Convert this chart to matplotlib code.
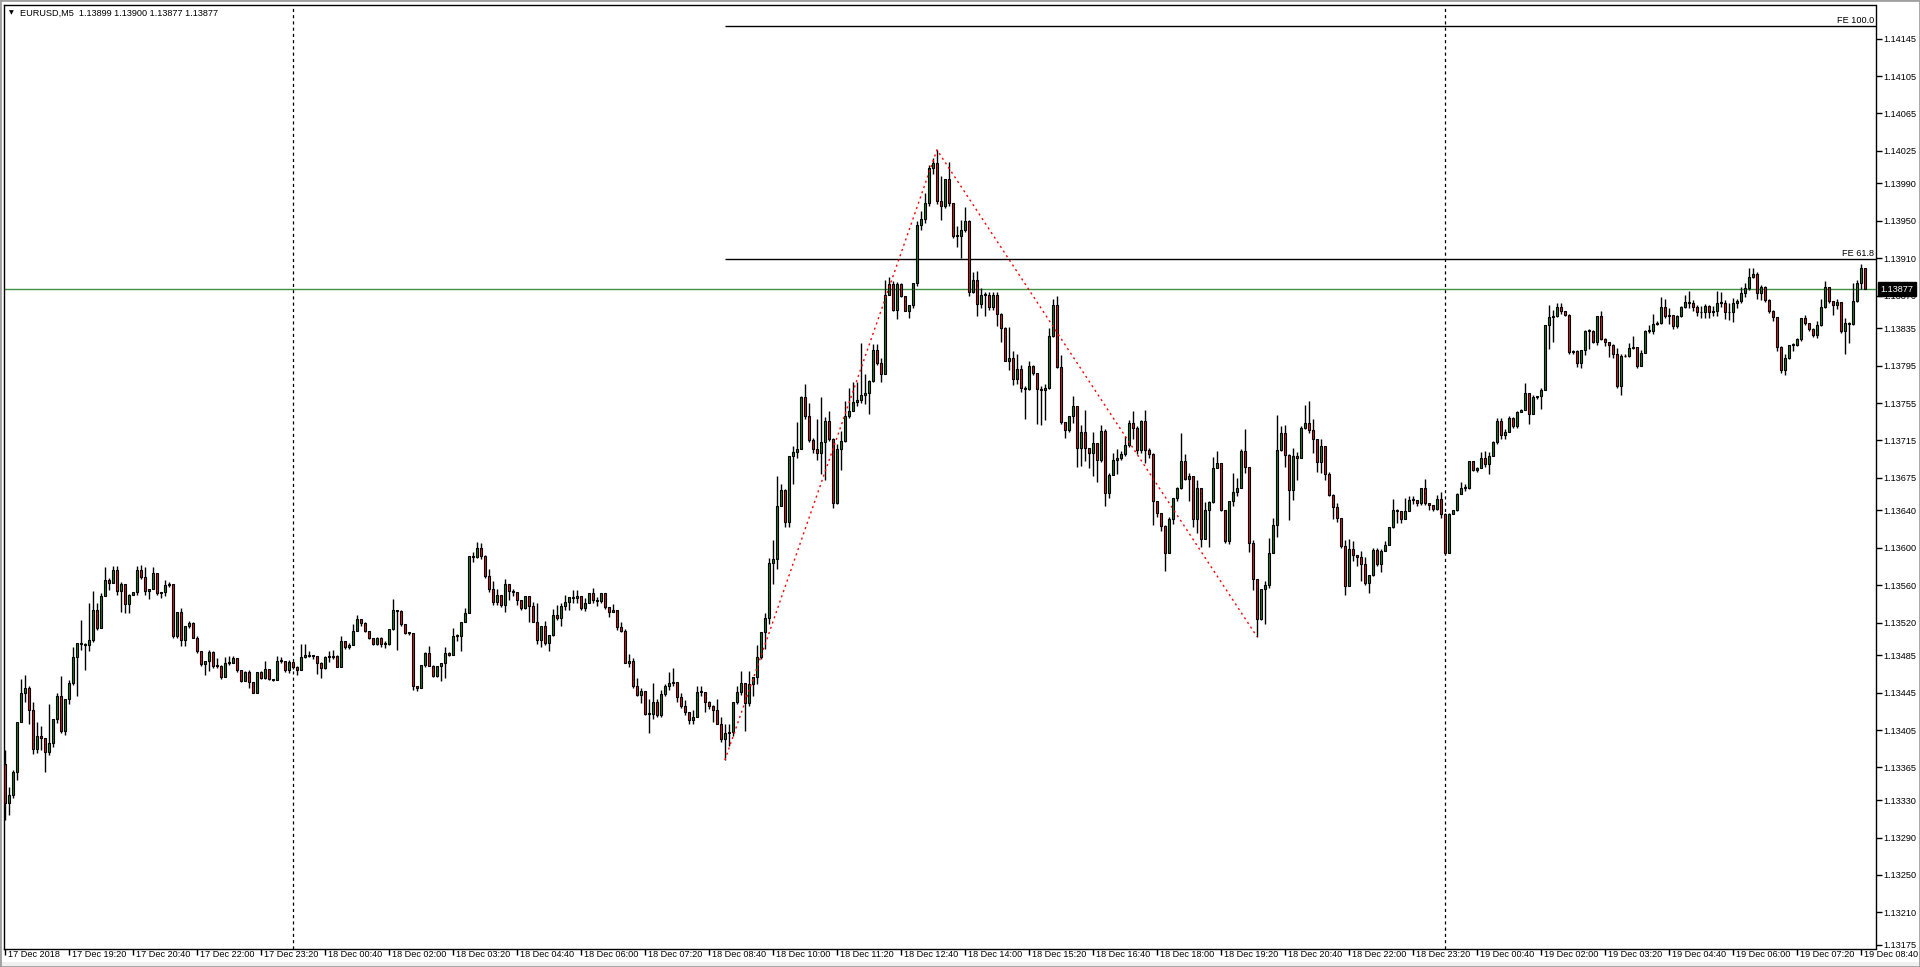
import matplotlib
matplotlib.use('Agg')
import matplotlib.pyplot as plt
import matplotlib.transforms as mtransforms
from matplotlib.patches import Rectangle
import numpy as np

# prices are kept as points above 1.13000 (1 point = 0.00001)
BASE = 1.13
first_open_pts = 369

close_pts = [
    327, 335, 360, 414, 445, 450, 426, 385, 399, 396,
    381, 391, 417, 441, 404, 438, 455, 483, 498, 497,
    496, 501, 533, 514, 549, 566, 562, 576, 554, 561,
    540, 550, 553, 576, 569, 554, 556, 573, 552, 553,
    560, 561, 506, 531, 501, 516, 520, 503, 490, 476,
    479, 489, 474, 474, 462, 477, 477, 482, 469, 458,
    467, 456, 445, 467, 461, 470, 460, 459, 479, 479,
    469, 478, 473, 469, 483, 485, 484, 484, 477, 471,
    483, 483, 484, 473, 500, 494, 496, 511, 524, 520,
    511, 504, 497, 504, 497, 497, 513, 533, 532, 518,
    509, 509, 452, 450, 475, 488, 474, 463, 474, 477,
    488, 485, 506, 506, 521, 530, 591, 590, 600, 591,
    570, 556, 542, 550, 539, 561, 554, 553, 544, 536,
    548, 538, 521, 501, 516, 498, 507, 528, 525, 538,
    542, 547, 546, 549, 536, 541, 552, 544, 543, 552,
    537, 531, 534, 515, 511, 477, 479, 452, 443, 447,
    422, 422, 435, 421, 444, 452, 455, 456, 440, 431,
    424, 416, 419, 446, 446, 435, 431, 427, 412, 395,
    402, 403, 435, 446, 455, 434, 454, 462, 483, 510,
    525, 584, 588, 645, 662, 628, 698, 703, 706, 761,
    741, 715, 706, 701, 713, 736, 717, 648, 706, 714,
    741, 747, 756, 758, 764, 766, 779, 812, 798, 786,
    871, 882, 855, 882, 870, 854, 860, 883, 946, 952,
    969, 1007, 1012, 971, 966, 995, 969, 934, 934, 940,
    950, 874, 887, 861, 871, 871, 858, 871, 850, 835,
    800, 803, 781, 791, 771, 770, 795, 787, 770, 769,
    771, 827, 860, 794, 735, 726, 741, 752, 707, 724,
    707, 701, 712, 694, 725, 659, 678, 694, 696, 700,
    710, 734, 728, 705, 736, 705, 700, 650, 637, 623,
    594, 631, 653, 664, 693, 674, 677, 631, 664, 609,
    640, 649, 686, 691, 641, 607, 650, 660, 664, 704,
    687, 605, 567, 524, 556, 560, 595, 625, 705, 723,
    699, 662, 698, 696, 728, 734, 726, 716, 692, 709,
    679, 657, 644, 632, 602, 559, 599, 592, 590, 583,
    562, 571, 598, 583, 597, 603, 622, 641, 639, 631,
    639, 651, 651, 648, 664, 648, 646, 642, 652, 636,
    595, 636, 640, 658, 664, 664, 693, 683, 685, 696,
    690, 698, 713, 736, 721, 724, 739, 730, 745, 748,
    766, 743, 761, 762, 769, 838, 847, 848, 858, 854,
    849, 810, 811, 798, 812, 832, 832, 820, 848, 823,
    820, 817, 807, 773, 805, 805, 814, 815, 795, 809,
    832, 832, 840, 841, 858, 848, 849, 837, 848, 858,
    863, 862, 858, 852, 852, 859, 852, 853, 862, 862,
    852, 852, 862, 864, 873, 878, 890, 893, 873, 879,
    865, 854, 847, 815, 790, 803, 817, 817, 823, 846,
    841, 834, 828, 838, 858, 879, 864, 860, 863, 832,
    841, 840, 864, 883, 899, 877,
]

high_pts = [
    384, 344, 362, 414, 460, 464, 452, 435, 414, 409,
    396, 433, 417, 445, 463, 438, 459, 494, 498, 523,
    498, 541, 554, 541, 552, 580, 568, 581, 581, 563,
    561, 551, 553, 581, 582, 580, 556, 580, 572, 553,
    566, 563, 560, 531, 536, 516, 522, 521, 506, 489,
    479, 491, 490, 482, 475, 483, 484, 484, 481, 469,
    468, 469, 456, 467, 468, 479, 470, 460, 484, 483,
    478, 480, 478, 474, 497, 497, 490, 485, 484, 478,
    484, 490, 491, 485, 506, 500, 498, 519, 528, 524,
    521, 511, 504, 505, 505, 500, 513, 545, 534, 533,
    518, 510, 508, 452, 475, 489, 495, 475, 474, 477,
    494, 489, 514, 508, 521, 536, 591, 596, 606, 605,
    592, 577, 565, 556, 548, 567, 561, 556, 553, 544,
    548, 548, 542, 541, 516, 522, 507, 535, 539, 541,
    550, 547, 555, 555, 549, 546, 552, 557, 547, 552,
    552, 537, 540, 534, 521, 513, 486, 482, 461, 450,
    447, 438, 455, 438, 448, 454, 467, 471, 456, 445,
    437, 424, 426, 452, 452, 446, 436, 432, 438, 419,
    411, 411, 435, 452, 468, 455, 468, 462, 496, 510,
    530, 589, 608, 677, 668, 663, 698, 709, 735, 763,
    775, 755, 718, 738, 761, 740, 747, 718, 711, 725,
    757, 771, 777, 778, 819, 786, 780, 818, 818, 803,
    887, 890, 886, 885, 884, 870, 860, 884, 950, 960,
    980, 1010, 1017, 1026, 998, 995, 1013, 969, 944, 951,
    965, 951, 895, 896, 878, 874, 874, 874, 874, 851,
    836, 836, 811, 807, 796, 773, 800, 796, 787, 773,
    775, 835, 866, 870, 806, 735, 741, 763, 752, 731,
    748, 707, 724, 711, 731, 727, 680, 702, 706, 704,
    720, 737, 747, 730, 737, 748, 707, 701, 650, 637,
    625, 633, 653, 665, 723, 700, 680, 676, 673, 664,
    649, 650, 697, 704, 691, 641, 650, 680, 675, 706,
    727, 685, 608, 567, 556, 564, 611, 632, 742, 730,
    732, 700, 707, 703, 730, 753, 757, 738, 716, 717,
    706, 681, 658, 648, 632, 608, 609, 607, 592, 597,
    590, 571, 600, 600, 599, 607, 622, 652, 642, 638,
    653, 655, 656, 651, 664, 674, 648, 645, 657, 660,
    637, 637, 641, 659, 671, 668, 693, 693, 687, 703,
    704, 703, 714, 739, 739, 727, 741, 740, 746, 749,
    776, 766, 764, 763, 771, 838, 860, 855, 862, 862,
    854, 850, 812, 812, 812, 833, 834, 833, 848, 853,
    825, 820, 818, 814, 807, 807, 819, 827, 815, 812,
    833, 838, 850, 843, 869, 866, 857, 848, 849, 859,
    871, 875, 865, 860, 859, 861, 860, 859, 875, 874,
    865, 862, 867, 866, 879, 883, 900, 900, 895, 881,
    880, 866, 855, 847, 816, 808, 817, 819, 825, 846,
    849, 841, 835, 843, 866, 886, 879, 864, 866, 861,
    846, 842, 883, 887, 904, 900,
]

low_pts = [
    309, 314, 332, 352, 414, 435, 411, 379, 380, 384,
    360, 378, 387, 413, 402, 400, 433, 453, 441, 491,
    469, 490, 499, 512, 515, 548, 555, 563, 550, 531,
    530, 530, 551, 550, 567, 550, 545, 557, 550, 546,
    549, 558, 503, 503, 495, 495, 514, 503, 488, 474,
    464, 468, 471, 471, 460, 462, 475, 478, 467, 456,
    458, 450, 445, 445, 460, 460, 459, 457, 459, 477,
    467, 466, 470, 464, 469, 482, 483, 481, 465, 461,
    470, 478, 481, 472, 473, 492, 492, 497, 511, 516,
    510, 502, 496, 496, 494, 493, 496, 512, 491, 516,
    508, 507, 448, 447, 452, 473, 474, 462, 462, 458,
    461, 484, 485, 500, 490, 521, 531, 585, 589, 588,
    568, 553, 539, 539, 537, 531, 544, 548, 539, 533,
    535, 521, 521, 497, 494, 496, 490, 506, 523, 516,
    533, 534, 541, 541, 533, 532, 541, 541, 538, 541,
    535, 526, 531, 512, 510, 477, 472, 450, 441, 434,
    421, 402, 417, 419, 419, 441, 448, 452, 435, 429,
    421, 412, 411, 423, 441, 424, 428, 414, 412, 392,
    373, 388, 399, 433, 443, 404, 431, 441, 454, 481,
    492, 518, 561, 577, 646, 622, 622, 668, 696, 707,
    738, 713, 701, 694, 679, 673, 714, 643, 647, 683,
    713, 739, 746, 752, 755, 754, 743, 778, 796, 777,
    786, 871, 853, 845, 868, 853, 846, 857, 880, 940,
    948, 966, 1000, 968, 951, 964, 966, 932, 922, 910,
    938, 870, 873, 848, 857, 848, 855, 855, 837, 820,
    800, 790, 774, 775, 767, 738, 769, 785, 733, 731,
    737, 770, 826, 792, 733, 718, 724, 734, 687, 688,
    693, 686, 677, 671, 692, 645, 653, 678, 679, 694,
    698, 708, 716, 700, 701, 691, 696, 625, 633, 618,
    575, 594, 626, 650, 663, 673, 650, 622, 616, 601,
    610, 601, 648, 685, 639, 605, 604, 645, 655, 665,
    680, 596, 555, 505, 523, 518, 557, 594, 612, 704,
    687, 630, 651, 673, 696, 727, 723, 702, 681, 680,
    673, 656, 631, 628, 600, 550, 559, 586, 581, 565,
    560, 552, 570, 581, 574, 597, 603, 621, 627, 627,
    631, 639, 647, 645, 646, 646, 641, 639, 641, 632,
    593, 597, 636, 639, 658, 661, 663, 682, 681, 685,
    687, 679, 698, 711, 716, 717, 724, 728, 728, 745,
    748, 733, 743, 759, 749, 770, 813, 820, 847, 850,
    848, 808, 807, 794, 793, 806, 813, 819, 817, 822,
    816, 804, 803, 771, 764, 804, 804, 813, 792, 795,
    809, 830, 829, 838, 840, 846, 840, 834, 835, 847,
    857, 857, 854, 848, 846, 846, 846, 848, 848, 858,
    845, 844, 842, 857, 862, 869, 876, 889, 866, 865,
    863, 851, 843, 811, 787, 785, 802, 811, 816, 821,
    839, 832, 826, 825, 837, 857, 862, 849, 856, 830,
    808, 819, 839, 863, 877, 877,
]

x_tick_labels = [
    '17 Dec 2018', '17 Dec 19:20', '17 Dec 20:40', '17 Dec 22:00', '17 Dec 23:20',
    '18 Dec 00:40', '18 Dec 02:00', '18 Dec 03:20', '18 Dec 04:40', '18 Dec 06:00',
    '18 Dec 07:20', '18 Dec 08:40', '18 Dec 10:00', '18 Dec 11:20', '18 Dec 12:40',
    '18 Dec 14:00', '18 Dec 15:20', '18 Dec 16:40', '18 Dec 18:00', '18 Dec 19:20',
    '18 Dec 20:40', '18 Dec 22:00', '18 Dec 23:20', '19 Dec 00:40', '19 Dec 02:00',
    '19 Dec 03:20', '19 Dec 04:40', '19 Dec 06:00', '19 Dec 07:20', '19 Dec 08:40',
]
bars_per_label = 16

y_tick_values = [
    1.13175, 1.13210, 1.13250, 1.13290, 1.13330, 1.13365, 1.13405, 1.13445, 1.13485,
    1.13520, 1.13560, 1.13600, 1.13640, 1.13675, 1.13715, 1.13755, 1.13795, 1.13835,
    1.13870, 1.13910, 1.13950, 1.13990, 1.14025, 1.14065, 1.14105, 1.14145,
]

day_separators = [72, 360]

# fibo expansion anchors (bar index, price)
fibo_idx = [180, 233, 313]
fibo_price = [1.13373, 1.14026, 1.13505]
fe_levels = [(61.8, 1.13909), (100.0, 1.14158)]

last_price = 1.13877
header = 'EURUSD,M5  1.13899 1.13900 1.13877 1.13877'

assert len(close_pts) == len(high_pts) == len(low_pts)

closes = BASE + np.array(close_pts) / 1e5
highs = BASE + np.array(high_pts) / 1e5
lows = BASE + np.array(low_pts) / 1e5
opens = np.concatenate([[BASE + first_open_pts / 1e5], closes[:-1]])
highs = np.maximum(highs, np.maximum(opens, closes))
lows = np.minimum(lows, np.minimum(opens, closes))
idx = np.arange(len(closes))

FONT = 'Liberation Sans'
plt.rcParams['font.family'] = [FONT, 'DejaVu Sans']
FS = 6.6

W, H = 1920, 967
fig = plt.figure(figsize=(W / 100, H / 100), dpi=100)
fig.patch.set_facecolor('white')
left, right, top, bottom = 4, 1875.5, 5, 948.7
ax = fig.add_axes([left / W, (H - bottom) / H, (right - left) / W, (bottom - top) / H])

ax.set_xlim(-0.2, 467.6)
ax.set_ylim(1.13171, 1.14181)

bull = '#1c7a1c'
bear = '#d41a1a'

ax.vlines(idx, lows, highs, color='black', linewidth=1, zorder=3)
body_lo = np.minimum(opens, closes)
body_h = np.abs(closes - opens)
body_h = np.where(body_h < 0.000008, 0.000008, body_h)
colors = np.where(closes > opens, bull, np.where(closes < opens, bear, 'black'))
ax.bar(idx, body_h, bottom=body_lo, width=0.6, color=colors,
       edgecolor='black', linewidth=0.8, zorder=4)

for s in day_separators:
    ax.axvline(s, color='black', linewidth=0.9, linestyle=(0, (2.5, 2.5)), zorder=2)

ax.axhline(last_price, color='#3d9140', linewidth=1, zorder=2)

for lvl, price in fe_levels:
    ax.hlines(price, fibo_idx[0], 470, color='black', linewidth=1, zorder=2)
    ax.text(467.2, price + 0.000015, 'FE %.1f' % lvl, ha='right', va='bottom',
            fontsize=FS, color='black', zorder=6)

ax.plot(fibo_idx, fibo_price, color='red', linewidth=1, linestyle=(0, (1.5, 2.5)), zorder=5)

# axes styling
for sp in ax.spines.values():
    sp.set_color('black')
    sp.set_linewidth(1)
ax.yaxis.tick_right()
ax.set_yticks(y_tick_values)
ax.set_yticklabels(['%.5f' % v for v in y_tick_values])
ax.tick_params(axis='y', direction='out', length=4, width=1, pad=2, labelsize=FS,
               colors='black')
ax.set_xticks([bars_per_label * k for k in range(len(x_tick_labels))])
ax.set_xticklabels([])
ax.tick_params(axis='x', direction='out', length=4, width=1, colors='black')

xoff = mtransforms.ScaledTranslation(3 / 100, -1.5 / 100, fig.dpi_scale_trans)
xtrans = mtransforms.blended_transform_factory(ax.transData, ax.transAxes) + xoff
for k, lab in enumerate(x_tick_labels):
    ax.text(bars_per_label * k, 0, lab, transform=xtrans, ha='left', va='top',
            fontsize=FS, color='black', clip_on=False)

# last price marker on the price scale
ptrans = mtransforms.blended_transform_factory(ax.transAxes, ax.transData) + \
    mtransforms.ScaledTranslation(5 / 100, 0, fig.dpi_scale_trans)
ax.text(1.0, last_price, '%.5f' % last_price, transform=ptrans, ha='left', va='center',
        fontsize=FS, color='white', clip_on=False, zorder=10,
        bbox=dict(boxstyle='square,pad=0.25', facecolor='black', edgecolor='black'))

# header
fig.text(11 / W, 1 - 13 / H, '\u25bc', fontsize=4.5, ha='center', va='center',
         family='DejaVu Sans')
fig.text(20 / W, 1 - 13 / H, header, fontsize=FS, ha='left', va='center', color='black')

# window frame
fig.patches.append(Rectangle((0, 0), 1, 5 / H, transform=fig.transFigure,
                             facecolor='#f0f0f0', edgecolor='none', zorder=0))
fig.patches.append(Rectangle((0, 0), 1, 1, transform=fig.transFigure, fill=False,
                             edgecolor='#a0a0a0', linewidth=2, zorder=1))

fig.savefig('out.png', dpi=100)
